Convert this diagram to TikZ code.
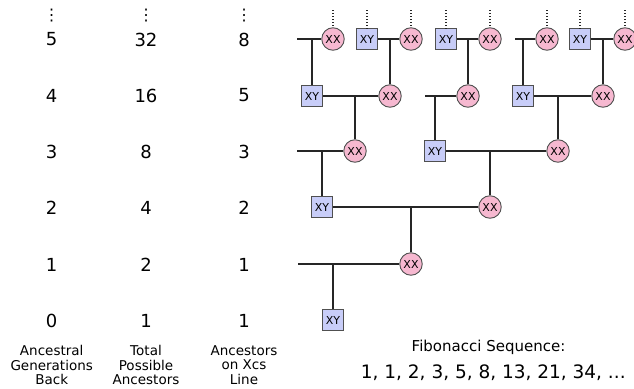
\documentclass[tikz,border=0pt]{standalone}
\usepackage{fontspec}
\setmainfont{DejaVu Sans}
\definecolor{pinkc}{RGB}{246,184,208}
\definecolor{bluec}{RGB}{200,205,248}
\definecolor{edgec}{RGB}{80,80,80}
\begin{document}
\begin{tikzpicture}[x=1pt,y=-1pt,
  xx/.style={circle,draw=edgec,line width=0.9pt,fill=pinkc,minimum size=22.5pt,inner sep=0pt,font=\fontsize{11}{11}\selectfont},
  xy/.style={rectangle,draw=edgec,line width=0.9pt,fill=bluec,minimum size=20.5pt,inner sep=0pt,font=\fontsize{11}{11}\selectfont},
  link/.style={line width=1.8pt,draw=black!85},
  anc/.style={dash pattern=on 1.2pt off 1.8pt,line width=1.2pt,draw=black!85},
  num/.style={font=\fontsize{18}{20}\selectfont,inner sep=0pt},
  vdots/.style={font=\fontsize{16}{16}\selectfont,inner sep=0pt},
  lab/.style={font=\fontsize{13.5}{14.6}\selectfont,align=center,inner sep=0pt}
]
\useasboundingbox (0,0) rectangle (634,388);

% columns
\foreach \c/\x in {a/51.7,b/146,c/244}{
  \node[vdots] (d\c) at (\x,16) {⋮};
}
\node[num] (a5) at (51.7,39.5) {5};
\node[num] (a4) at (51.7,95.5) {4};
\node[num] (a3) at (51.7,151.5) {3};
\node[num] (a2) at (51.7,208) {2};
\node[num] (a1) at (51.7,264.5) {1};
\node[num] (a0) at (51.7,321) {0};
\node[num] (b5) at (146,39.5) {32};
\node[num] (b4) at (146,95.5) {16};
\node[num] (b3) at (146,151.5) {8};
\node[num] (b2) at (146,208) {4};
\node[num] (b1) at (146,264.5) {2};
\node[num] (b0) at (146,321) {1};
\node[num] (c5) at (244,39.5) {8};
\node[num] (c4) at (244,95.5) {5};
\node[num] (c3) at (244,151.5) {3};
\node[num] (c2) at (244,208) {2};
\node[num] (c1) at (244,264.5) {1};
\node[num] (c0) at (244,321) {1};
\node[lab] (la) at (51.7,365) {Ancestral\\Generations\\Back};
\node[lab] (lb) at (146,365) {Total\\Possible\\Ancestors};
\node[lab] (lc) at (244,365) {Ancestors\\on Xcs\\Line};
\node[font=\fontsize{15}{16}\selectfont,inner sep=0pt] (fib) at (488.5,347) {Fibonacci Sequence:};
\node[font=\fontsize{18.5}{20}\selectfont,inner sep=0pt] (seq) at (493.3,373) {1, 1, 2, 3, 5, 8, 13, 21, 34, ...};

% tree nodes
\node[xy] (g0) at (333,320) {XY};
\node[xx] (g1) at (411,264) {XX};
\node[xy] (g2a) at (322,207) {XY};
\node[xx] (g2b) at (490,207) {XX};
\node[xx] (g3a) at (355,151) {XX};
\node[xy] (g3b) at (435,151) {XY};
\node[xx] (g3c) at (558,151) {XX};
\node[xy] (g4a) at (312,96) {XY};
\node[xx] (g4b) at (390,96) {XX};
\node[xx] (g4c) at (468,96) {XX};
\node[xy] (g4d) at (523,96) {XY};
\node[xx] (g4e) at (603,96) {XX};
\node[xx] (g5a) at (333,39) {XX};
\node[xy] (g5b) at (367,39) {XY};
\node[xx] (g5c) at (411,39) {XX};
\node[xy] (g5d) at (446,39) {XY};
\node[xx] (g5e) at (490,39) {XX};
\node[xx] (g5f) at (547,39) {XX};
\node[xy] (g5g) at (580,39) {XY};
\node[xx] (g5h) at (625,39) {XX};

% free ends
\coordinate (f0) at (298,264);
\coordinate (f2) at (297,151);
\coordinate (f3) at (425,96);
\coordinate (f4a) at (297,39);
\coordinate (f4d) at (515,39);

% parent lines
\draw[link] (f0) -- (g1.west);
\draw[link] (g2a.east) -- (g2b.west);
\draw[link] (f2) -- (g3a.west);
\draw[link] (g3b.east) -- (g3c.west);
\draw[link] (g4a.east) -- (g4b.west);
\draw[link] (f3) -- (g4c.west);
\draw[link] (g4d.east) -- (g4e.west);
\draw[link] (f4a) -- (g5a.west);
\draw[link] (g5b.east) -- (g5c.west);
\draw[link] (g5d.east) -- (g5e.west);
\draw[link] (f4d) -- (g5f.west);
\draw[link] (g5g.east) -- (g5h.west);

% child drops
\draw[link] (g0.north) -- (g0.north |- g1.west);
\draw[link] (g1.north) -- (g1.north |- g2b.west);
\draw[link] (g2a.north) -- (g2a.north |- g3a.west);
\draw[link] (g2b.north) -- (g2b.north |- g3c.west);
\draw[link] (g3a.north) -- (g3a.north |- g4b.west);
\draw[link] (g3b.north) -- (g3b.north |- g4c.west);
\draw[link] (g3c.north) -- (g3c.north |- g4e.west);
\draw[link] (g4a.north) -- (g4a.north |- g5a.west);
\draw[link] (g4b.north) -- (g4b.north |- g5c.west);
\draw[link] (g4c.north) -- (g4c.north |- g5e.west);
\draw[link] (g4d.north) -- (g4d.north |- g5f.west);
\draw[link] (g4e.north) -- (g4e.north |- g5h.west);

% unknown ancestors
\foreach \n in {g5a,g5b,g5c,g5d,g5e,g5f,g5g,g5h}{
  \coordinate (t\n) at (\n.north |- 0,10);
  \draw[anc] (t\n) -- (\n.north);
}
\end{tikzpicture}
\end{document}
